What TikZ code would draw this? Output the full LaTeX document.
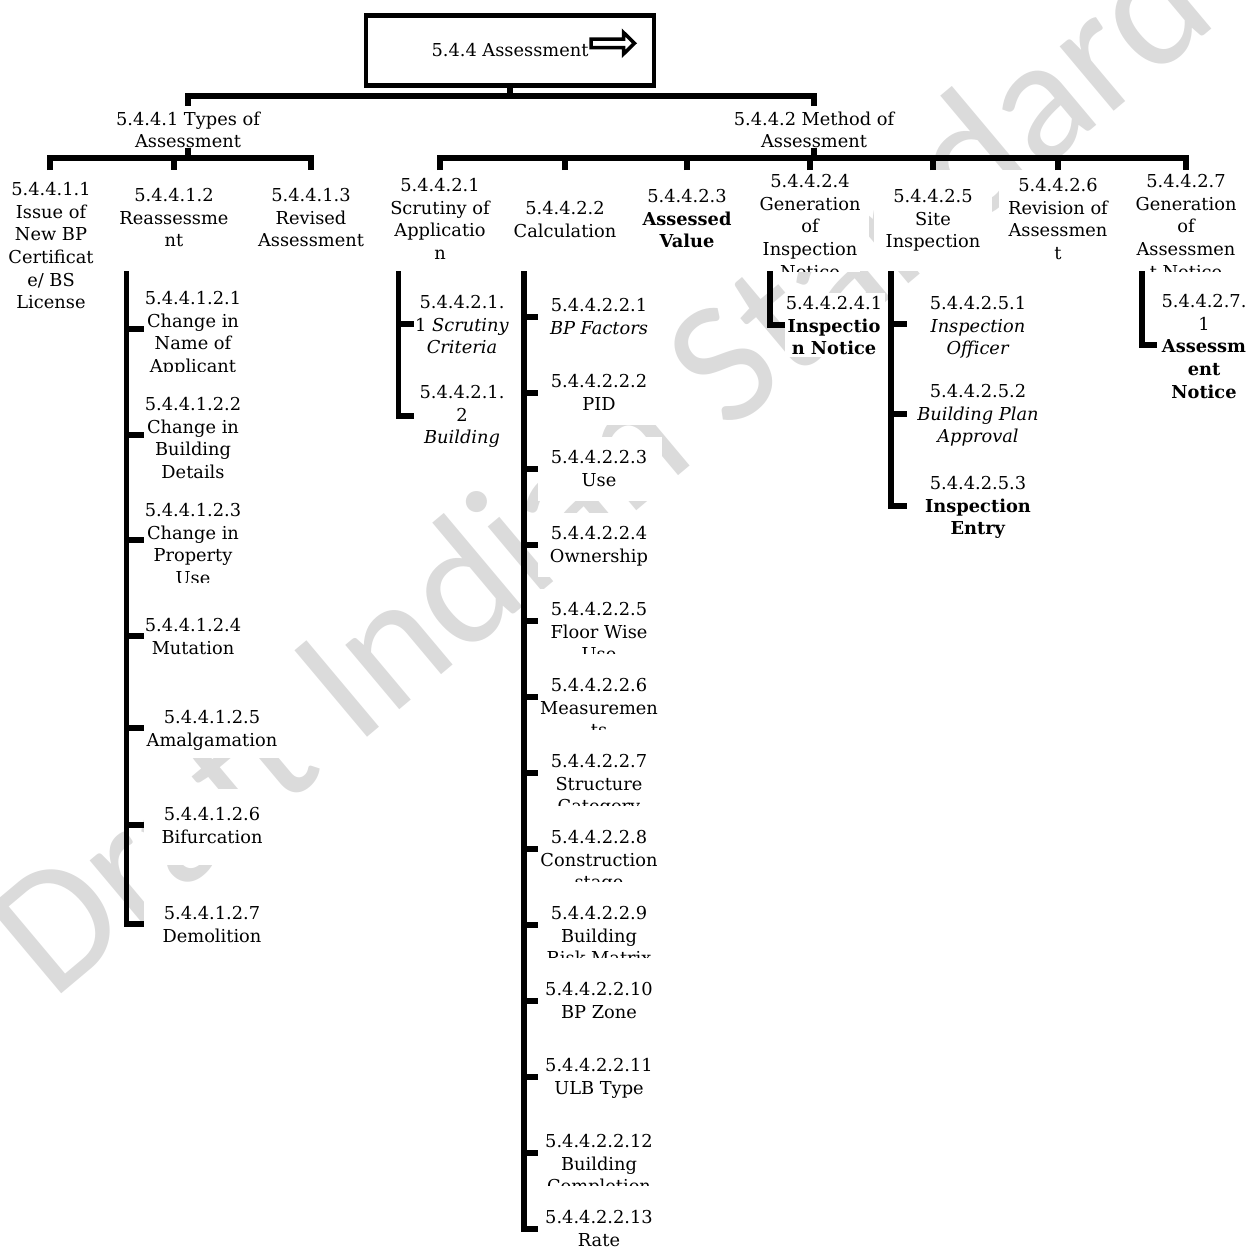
\documentclass[tikz,border=0pt]{standalone}
\usepackage{fontspec}
\setmainfont{DejaVu Serif}
\newfontfamily\wmfont{Carlito}
\definecolor{wmgray}{RGB}{219,219,219}
\newcommand\lblfont{\fontsize{8.9pt}{11.3pt}\selectfont}
\begin{document}
\begin{tikzpicture}[x=0.5pt,y=-0.5pt,
  conn/.style={line width=2.75pt,line join=miter},
  tb/.style={rectangle,fill=white,draw=none,inner sep=0pt,outer sep=0pt},
  lbl/.style={font=\lblfont,align=center,inner sep=0pt,outer sep=0pt,anchor=north,fill=white},
  lvtwo/.style={tb,minimum width=59pt,minimum height=50.5pt},
  subbox/.style={tb,anchor=west}]
\useasboundingbox (0,0) rectangle (1254,1253);
\clip (0,0) rectangle (1254,1253);
% watermark
\node[font=\wmfont\fontsize{88pt}{90pt}\selectfont,text=wmgray,rotate=40,anchor=base west,inner sep=0pt] (wm) at (52,1002) {Draft Indian Standard};

% root
\node[rectangle,draw,line width=2.4pt,fill=white,minimum width=144pt,minimum height=34.75pt,inner sep=0pt,font=\lblfont] (root) at (510,50.5) {5.4.4 Assessment};
\draw[line width=1.75pt,fill=white,line join=miter] (591,39) -- (623.5,39) -- (623.5,32.5) -- (634.5,43.25) -- (623.5,54) -- (623.5,47.5) -- (591,47.5) -- cycle;

% level 1
\node[lbl] (t1) at (188,111.5) {5.4.4.1 Types of\\Assessment};
\node[lbl] (t2) at (814,111.5) {5.4.4.2 Method of\\Assessment};

% level 2 boxes
\node[tb,minimum width=59pt,minimum height=71pt] (c11) at (50,241) {};
\node[lvtwo] (c12) at (174,220.5) {};
\node[lvtwo] (c13) at (311,220.5) {};
\node[lvtwo] (c21) at (440,220.5) {};
\node[lvtwo] (c22) at (565,220.5) {};
\node[lvtwo] (c23) at (687,220.5) {};
\node[lvtwo] (c24) at (810,220.5) {};
\node[lvtwo] (c25) at (933,220.5) {};
\node[lvtwo] (c26) at (1058,220.5) {};
\node[lvtwo] (c27) at (1186,220.5) {};

% level 2 texts
\node[lbl] (c11t) at (51,182.5) {5.4.4.1.1\\Issue of\\New BP\\Certificat\\e/ BS\\License};
\node[lbl] (c12t) at (174,188.5) {5.4.4.1.2\\Reassessme\\nt};
\node[lbl] (c13t) at (311,188.5) {5.4.4.1.3\\Revised\\Assessment};
\node[lbl] (c21t) at (440,178.5) {5.4.4.2.1\\Scrutiny of\\Applicatio\\n};
\node[lbl] (c22t) at (565,201.5) {5.4.4.2.2\\Calculation};
\node[lbl] (c23t) at (687,189.5) {5.4.4.2.3\\\textbf{Assessed}\\\textbf{Value}};
\begin{scope}
\clip (c24.south west) rectangle (c24.north east);
\node[lbl] (c24t) at (810,174.5) {5.4.4.2.4\\Generation\\of\\Inspection\\Notice};
\end{scope}
\node[lbl] (c25t) at (933,189.5) {5.4.4.2.5\\Site\\Inspection};
\node[lbl] (c26t) at (1058,178.5) {5.4.4.2.6\\Revision of\\Assessmen\\t};
\begin{scope}
\clip (c27.south west) rectangle (c27.north east);
\node[lbl] (c27t) at (1186,174.5) {5.4.4.2.7\\Generation\\of\\Assessmen\\t Notice};
\end{scope}

% 5.4.4.1.2 children
\node[subbox,minimum width=50pt,minimum height=42pt] (i12-1) at (144,329) {};
\node[subbox,minimum width=50pt,minimum height=42pt] (i12-2) at (144,435) {};
\node[subbox,minimum width=50pt,minimum height=42pt] (i12-3) at (144,540) {};
\node[subbox,minimum width=50pt,minimum height=42pt] (i12-4) at (144,636) {};
\node[subbox,minimum width=69pt,minimum height=34pt] (i12-5) at (144,724) {};
\node[subbox,minimum width=69pt,minimum height=38pt] (i12-6) at (144,827) {};
\node[subbox,minimum width=69pt,minimum height=38pt] (i12-7) at (144,924) {};
\begin{scope}
\clip (i12-1.south west) rectangle (i12-1.north east);
\node[lbl] (i12-1t) at (193,291.5) {5.4.4.1.2.1\\Change in\\Name of\\Applicant};
\end{scope}
\node[lbl] (i12-2t) at (193,397.5) {5.4.4.1.2.2\\Change in\\Building\\Details};
\begin{scope}
\clip (i12-3.south west) rectangle (i12-3.north east);
\node[lbl] (i12-3t) at (193,503.5) {5.4.4.1.2.3\\Change in\\Property\\Use};
\end{scope}
\node[lbl] (i12-4t) at (193,618.5) {5.4.4.1.2.4\\Mutation};
\node[lbl] (i12-5t) at (212,710.5) {5.4.4.1.2.5\\Amalgamation};
\node[lbl] (i12-6t) at (212,807.5) {5.4.4.1.2.6\\Bifurcation};
\node[lbl] (i12-7t) at (212,906.5) {5.4.4.1.2.7\\Demolition};

% 5.4.4.2.1 children
\node[subbox,minimum width=48pt,minimum height=32pt] (i21-1) at (414,324) {};
\node[subbox,minimum width=48pt,minimum height=32pt] (i21-2) at (414,416) {};
\node[lbl] (i21-1t) at (462,295.5) {5.4.4.2.1.\\1 \textit{Scrutiny}\\\textit{Criteria}};
\node[lbl] (i21-2t) at (462,385.5) {5.4.4.2.1.\\2\\\textit{Building}};

% 5.4.4.2.2 children
\foreach \k/\yy in {1/317,2/393,3/469,4/545,5/621,6/697,7/773,8/849,9/925,10/1001,11/1077,12/1153,13/1229}
  \node[subbox,minimum width=62pt,minimum height=32pt] (i22-\k) at (538,\yy) {};
\node[lbl] (i22-1t) at (599,298.5) {5.4.4.2.2.1\\\textit{BP Factors}};
\node[lbl] (i22-2t) at (599,374.5) {5.4.4.2.2.2\\PID};
\node[lbl] (i22-3t) at (599,450.5) {5.4.4.2.2.3\\Use};
\node[lbl] (i22-4t) at (599,526.5) {5.4.4.2.2.4\\Ownership};
\begin{scope}
\clip (i22-5.south west) rectangle (i22-5.north east);
\node[lbl] (i22-5t) at (599,602.5) {5.4.4.2.2.5\\Floor Wise\\Use};
\end{scope}
\begin{scope}
\clip (i22-6.south west) rectangle (i22-6.north east);
\node[lbl] (i22-6t) at (599,678.5) {5.4.4.2.2.6\\Measuremen\\ts};
\end{scope}
\begin{scope}
\clip (i22-7.south west) rectangle (i22-7.north east);
\node[lbl] (i22-7t) at (599,754.5) {5.4.4.2.2.7\\Structure\\Category};
\end{scope}
\begin{scope}
\clip (i22-8.south west) rectangle (i22-8.north east);
\node[lbl] (i22-8t) at (599,830.5) {5.4.4.2.2.8\\Construction\\stage};
\end{scope}
\begin{scope}
\clip (i22-9.south west) rectangle (i22-9.north east);
\node[lbl] (i22-9t) at (599,906.5) {5.4.4.2.2.9\\Building\\Risk Matrix};
\end{scope}
\node[lbl] (i22-10t) at (599,982.5) {5.4.4.2.2.10\\BP Zone};
\node[lbl] (i22-11t) at (599,1058.5) {5.4.4.2.2.11\\ULB Type};
\begin{scope}
\clip (i22-12.south west) rectangle (i22-12.north east);
\node[lbl] (i22-12t) at (599,1134.5) {5.4.4.2.2.12\\Building\\Completion};
\end{scope}
\node[lbl] (i22-13t) at (599,1210.5) {5.4.4.2.2.13\\Rate};

% 5.4.4.2.4 child
\node[subbox,minimum width=50pt,minimum height=32pt] (i24-1) at (785,325) {};
\node[lbl] (i24-1t) at (834,296.5) {5.4.4.2.4.1\\\textbf{Inspectio}\\\textbf{n Notice}};

% 5.4.4.2.5 children
\node[subbox,minimum width=71.5pt,minimum height=34pt] (i25-1) at (907,324) {};
\node[subbox,minimum width=71.5pt,minimum height=34pt] (i25-2) at (907,414) {};
\node[subbox,minimum width=71.5pt,minimum height=34pt] (i25-3) at (907,506) {};
\node[lbl] (i25-1t) at (978,296.5) {5.4.4.2.5.1\\\textit{Inspection}\\\textit{Officer}};
\node[lbl] (i25-2t) at (978,384.5) {5.4.4.2.5.2\\\textit{Building Plan}\\\textit{Approval}};
\node[lbl] (i25-3t) at (978,476.5) {5.4.4.2.5.3\\\textbf{Inspection}\\\textbf{Entry}};

% 5.4.4.2.7 child
\node[subbox,minimum width=48.5pt,minimum height=50pt] (i27-1) at (1157,345) {};
\node[lbl] (i27-1t) at (1204,294.5) {5.4.4.2.7.\\1\\\textbf{Assessm}\\\textbf{ent}\\\textbf{Notice}};

% connectors: top levels
\coordinate (b0) at (510,96);
\coordinate (b1) at (188,158);
\coordinate (b2) at (814,158);
\draw[conn] (root.south) -- (b0);
\draw[conn] ([yshift=3pt]t1.north) |- (b0) -| ([yshift=3pt]t2.north);
\draw[conn] (t1.south) -- (b1);
\draw[conn] (c11.north) |- (b1) -| (c13.north);
\draw[conn] (b1) -| (c12.north);
\draw[conn] (t2.south) -- (b2);
\draw[conn] (c21.north) |- (b2) -| (c27.north);
\foreach \c in {c22,c23,c24,c25,c26}
  \draw[conn] (\c.north) -- (\c.north |- b2);

% spines
\coordinate (sp12) at ([xshift=-23.75pt]c12.south);
\coordinate (sp21) at ([xshift=-20.75pt]c21.south);
\coordinate (sp22) at ([xshift=-20.5pt]c22.south);
\coordinate (sp24) at ([xshift=-20pt]c24.south);
\coordinate (sp25) at ([xshift=-21pt]c25.south);
\coordinate (sp27) at ([xshift=-22pt]c27.south);

\draw[conn] (sp12) |- ([yshift=-0pt]i12-7.west);
\foreach \k in {1,...,4}
  \draw[conn] (sp12 |- i12-\k.west) -- (i12-\k.west);
\draw[conn] (sp12 |- 0,728) -- (i12-5.west |- 0,728);
\draw[conn] (sp12 |- 0,825) -- (i12-6.west |- 0,825);
\draw[conn] (sp21) |- (i21-2.west);
\draw[conn] (sp21 |- i21-1.west) -- (i21-1.west);
\draw[conn] (sp22) |- (i22-13.west);
\foreach \k in {1,...,12}
  \draw[conn] (sp22 |- i22-\k.west) -- (i22-\k.west);
\draw[conn] (sp24) |- (i24-1.west);
\draw[conn] (sp25) |- (i25-3.west);
\draw[conn] (sp25 |- i25-1.west) -- (i25-1.west);
\draw[conn] (sp25 |- i25-2.west) -- (i25-2.west);
\draw[conn] (sp27) |- (i27-1.west);
\end{tikzpicture}
\end{document}
